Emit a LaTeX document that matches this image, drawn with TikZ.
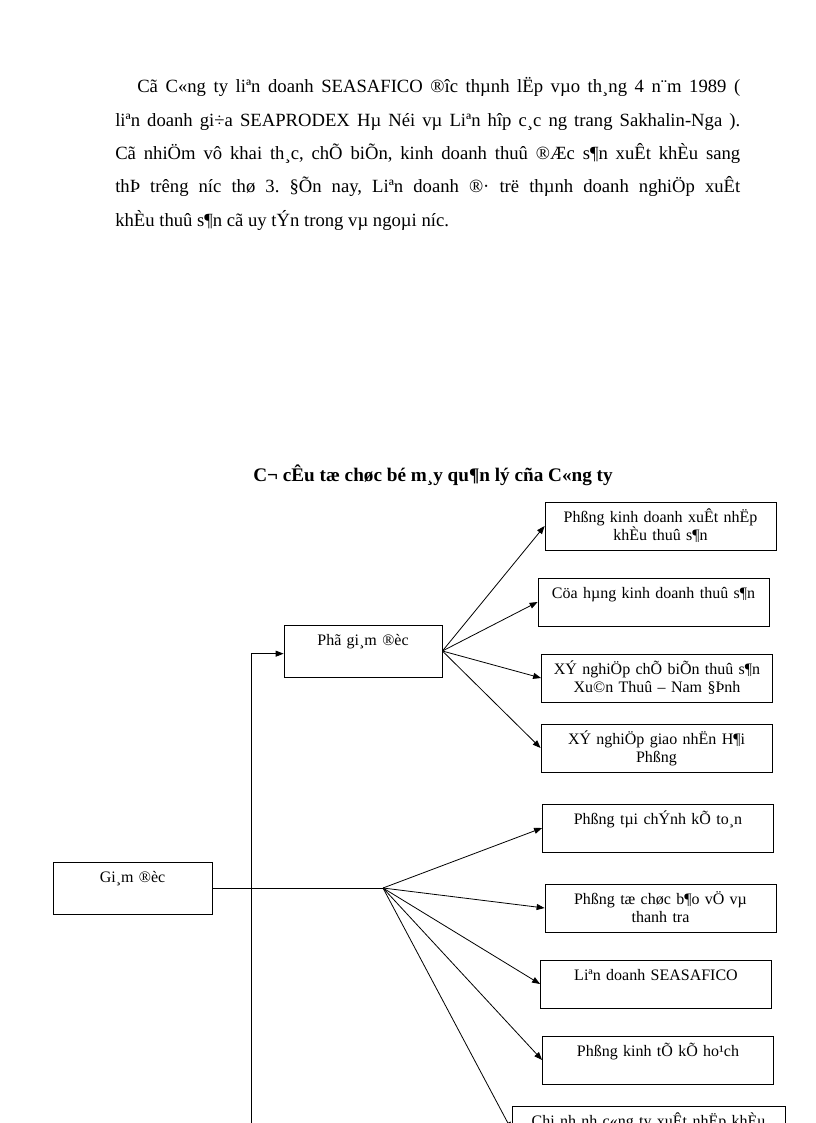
\documentclass[tikz,border=0pt]{standalone}
\usepackage{fontspec}
\setmainfont{Liberation Serif}
\usetikzlibrary{arrows.meta}

\begin{document}
\begin{tikzpicture}[x=0.75pt, y=-0.75pt,
    box/.style={draw, line width=0.6pt, inner xsep=0pt, inner ysep=0pt, align=center,
      font=\fontsize{12}{13.8}\selectfont, text height=15pt, text depth=21pt, text width=173.25pt},
    bigbox/.style={box, text depth=24pt}]
  \path[use as bounding box, clip] (0,0) rectangle (816,1123);

  \node[anchor=base west, inner sep=0pt, text width=468.75pt, align=justify,
    font=\fontsize{14}{25}\selectfont\frenchspacing] (intro) at (115,93)
    {\hspace*{16.5pt}Cã C«ng ty liªn doanh SEASAFICO ®îc thµnh lËp vµo th¸ng 4 n¨m 1989 (\linebreak
     liªn doanh gi÷a SEAPRODEX Hµ Néi vµ Liªn hîp c¸c ng trang Sakhalin-Nga ).\linebreak
     Cã nhiÖm vô khai th¸c, chÕ biÕn, kinh doanh thuû ®Æc s¶n xuÊt khÈu sang\linebreak
     thÞ trêng níc thø 3. §Õn nay, Liªn doanh ®· trë thµnh doanh nghiÖp xuÊt\linebreak
     khÈu thuû s¶n cã uy tÝn trong vµ ngoµi níc.};

  \node[anchor=base, inner sep=0pt, font=\fontsize{14.4}{16}\selectfont\bfseries] (title) at (433,481)
    {C¬ cÊu tæ chøc bé m¸y qu¶n lý cña C«ng ty};

  \node[bigbox, text width=119.25pt] (g0) at (132.5,888) {Gi¸m ®èc};
  \node[bigbox, text width=118.5pt] (p0) at (363,651) {Phã gi¸m ®èc};

  \node[box] (b1) at (660.5,526) {Phßng kinh doanh xuÊt nhËp\\khÈu thuû s¶n};
  \node[box] (b2) at (653.5,602) {Cöa hµng kinh doanh thuû s¶n};
  \node[box] (b3) at (657,678) {XÝ nghiÖp chÕ biÕn thuû s¶n\\Xu©n Thuû – Nam §Þnh};
  \node[box] (b4) at (656.5,748) {XÝ nghiÖp giao nhËn H¶i\\Phßng};
  \node[box] (b5) at (658,828) {Phßng tµi chÝnh kÕ to¸n};
  \node[box] (b6) at (660.5,908) {Phßng tæ chøc b¶o vÖ vµ\\thanh tra};
  \node[box] (b7) at (656,984) {Liªn doanh SEASAFICO};
  \node[box] (b8) at (658,1060) {Phßng kinh tÕ kÕ ho¹ch};
  \node[box, text width=204.75pt] (b9) at (648.5,1130) {Chi nh¸nh c«ng ty xuÊt nhËp khÈu};

  \coordinate (hub) at (383,888);
  \coordinate (vb) at (251,1140);

  \draw[line width=0.6pt] (g0.east) -- (hub);
  \begin{scope}[line width=0.6pt, -{Triangle[length=6pt,width=4.5pt]}]
    \draw (p0.east) -- (b1.west);
    \draw (p0.east) -- (b2.west);
    \draw (p0.east) -- (b3.west);
    \draw (p0.east) -- (b4.west);
    \draw (hub) -- (b5.west);
    \draw (hub) -- (b6.west);
    \draw (hub) -- (b7.west);
    \draw (hub) -- (b8.west);
    \draw (hub) -- (b9.west);
    \draw (vb) |- ([yshift=-2pt]p0.west);
  \end{scope}
\end{tikzpicture}
\end{document}
